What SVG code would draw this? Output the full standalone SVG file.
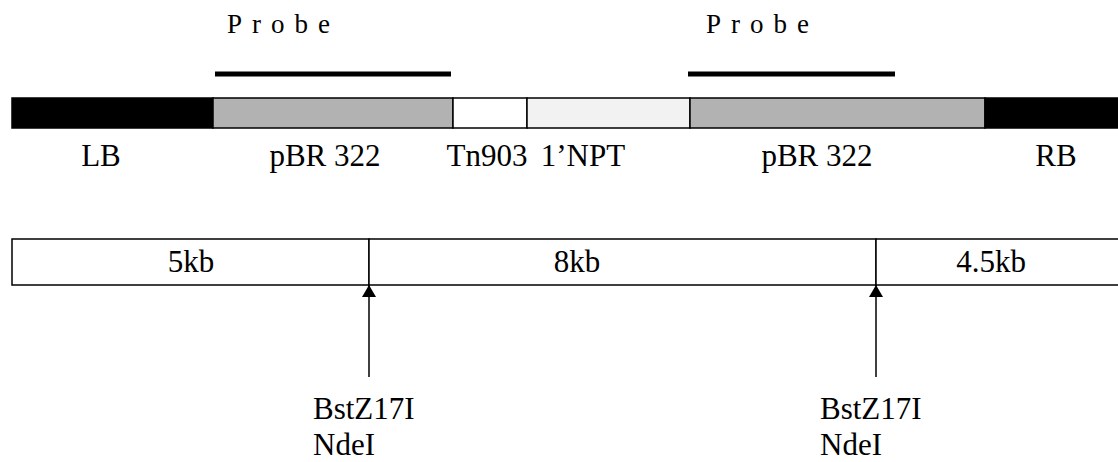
<svg xmlns="http://www.w3.org/2000/svg" width="1118" height="462" viewBox="0 0 1118 462">
  <style>
    text { font-family: "Liberation Serif", "Times New Roman", serif; fill: #000; }
    .lbl { font-size: 31px; text-anchor: middle; }
    .site { font-size: 31px; }
    .probe { font-size: 27px; letter-spacing: 10px; }
    .seg { stroke: #000; stroke-width: 1.5; }
    .probe-line { stroke: #000; stroke-width: 5; }
    .conn { stroke: #000; stroke-width: 1.5; fill: none; }
  </style>
  <defs>
    <marker id="arrowUp" viewBox="0 0 12 14" refX="12" refY="7" markerWidth="12" markerHeight="14" orient="auto" markerUnits="userSpaceOnUse">
      <path d="M0,0 L12,7 L0,14 Z" fill="#000"/>
    </marker>
  </defs>

  <!-- probe markers above the construct -->
  <g id="probe-left">
    <text class="probe" x="227" y="33">Probe</text>
    <line class="probe-line" x1="215" y1="74" x2="451" y2="74"/>
  </g>
  <g id="probe-right">
    <text class="probe" x="706" y="33">Probe</text>
    <line class="probe-line" x1="688" y1="74" x2="895" y2="74"/>
  </g>

  <!-- T-DNA construct segments -->
  <g id="seg-LB">
    <rect class="seg" x="12" y="98" width="201" height="30" fill="#000"/>
    <text class="lbl" x="101" y="166">LB</text>
  </g>
  <g id="seg-pBR322-left">
    <rect class="seg" x="213" y="98" width="240" height="30" fill="#b2b2b2"/>
    <text class="lbl" x="325" y="166">pBR 322</text>
  </g>
  <g id="seg-Tn903">
    <rect class="seg" x="453" y="98" width="74" height="30" fill="#fff"/>
    <text class="lbl" x="487" y="166">Tn903</text>
  </g>
  <g id="seg-NPT">
    <rect class="seg" x="527" y="98" width="163" height="30" fill="#f2f2f2"/>
    <text class="lbl" x="583" y="166">1’NPT</text>
  </g>
  <g id="seg-pBR322-right">
    <rect class="seg" x="690" y="98" width="295" height="30" fill="#b2b2b2"/>
    <text class="lbl" x="817" y="166">pBR 322</text>
  </g>
  <g id="seg-RB">
    <rect class="seg" x="985" y="98" width="140" height="30" fill="#000"/>
    <text class="lbl" x="1056" y="166">RB</text>
  </g>

  <!-- restriction fragment map -->
  <g id="frag-5kb">
    <rect class="seg" x="12" y="239" width="357" height="46" fill="#fff"/>
    <text class="lbl" x="191" y="272">5kb</text>
  </g>
  <g id="frag-8kb">
    <rect class="seg" x="369" y="239" width="507" height="46" fill="#fff"/>
    <text class="lbl" x="577" y="272">8kb</text>
  </g>
  <g id="frag-4-5kb">
    <rect class="seg" x="876" y="239" width="250" height="46" fill="#fff"/>
    <text class="lbl" x="991" y="272">4.5kb</text>
  </g>

  <!-- restriction site labels -->
  <g id="site-left">
    <text class="site" x="313" y="419">BstZ17I</text>
    <text class="site" x="313" y="455">NdeI</text>
  </g>
  <g id="site-right">
    <text class="site" x="820" y="419">BstZ17I</text>
    <text class="site" x="820" y="455">NdeI</text>
  </g>

  <!-- connectors: cut-site arrows -->
  <g id="connectors">
    <line class="conn" x1="369" y1="377" x2="369" y2="285" marker-end="url(#arrowUp)"/>
    <line class="conn" x1="876" y1="377" x2="876" y2="285" marker-end="url(#arrowUp)"/>
  </g>
</svg>
